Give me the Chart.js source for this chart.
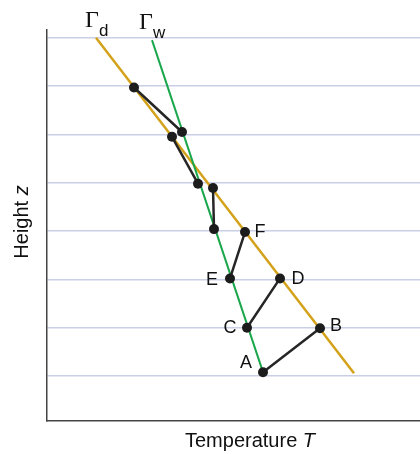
<!DOCTYPE html>
<html><head><meta charset="utf-8">
<script src="https://cdn.jsdelivr.net/npm/chart.js@4/dist/chart.umd.min.js"></script>
<style>html,body{margin:0;padding:0;background:#fff}canvas{display:block}</style>
</head><body>
<canvas id="c" width="420" height="454"></canvas>
<script>
// Parcel path segments (temperature, height); null breaks the path
const pathT = [216, 273, null, 200, 233, null, 183, 198, null, 167, 166, null, 151, 125, null, 135, 87];
const pathZ = [1.08, 1.99, null, 2.0, 3.02, null, 3.02, 3.98, null, 4.04, 4.89, null, 4.98, 5.95, null, 6.05, 6.97];
// labelled points (index into path arrays)
const pathLabels = ['A', 'B', 'C', 'D', 'E', 'F'];
const labelIdx = [0, 1, 3, 4, 6, 7];
// Dry adiabat
const dryT = [49, 307];
const dryZ = [8.0, 1.06];
// Wet adiabat
const wetT = [105, 216];
const wetZ = [7.95, 1.08];
const gridZ = [1, 2, 3, 4, 5, 6, 7, 8];
const curveNames = [['Γ', 'd'], ['Γ', 'w']];
const xTitle = ['Temperature ', 'T'];
const yTitle = ['Height ', 'z'];

const pts = (xs, ys) => xs.map((x, i) => ({x: x === null ? NaN : x, y: ys[i] === null ? NaN : ys[i]}));

// label offsets (px) relative to point: [dx, dy]
const labelOffsets = [[-17, -9], [16, -2], [-17, 0], [18, 1], [-18, 2], [15, 0]];

const textPlugin = {
  id: 'texts',
  afterDraw(chart) {
    const ctx = chart.ctx;
    const xs = chart.scales.x, ys = chart.scales.y;
    ctx.save();
    ctx.fillStyle = '#111';
    // point labels
    ctx.font = '18px "Liberation Sans", Arial, sans-serif';
    ctx.textAlign = 'center';
    ctx.textBaseline = 'middle';
    pathLabels.forEach((lab, i) => {
      const k = labelIdx[i];
      const px = xs.getPixelForValue(pathT[k]);
      const py = ys.getPixelForValue(pathZ[k]);
      ctx.fillText(lab, px + labelOffsets[i][0], py + labelOffsets[i][1]);
    });
    // curve names
    ctx.textAlign = 'left';
    ctx.textBaseline = 'alphabetic';
    const starts = [[dryT[0], dryZ[0], -11], [wetT[0], wetZ[0], -13]];
    curveNames.forEach((nm, i) => {
      const px = xs.getPixelForValue(starts[i][0]) + starts[i][2];
      const py = ys.getPixelForValue(starts[i][1]);
      ctx.font = '24px "Liberation Serif", "Times New Roman", serif';
      ctx.fillText(nm[0], px, py - 11);
      const w = ctx.measureText(nm[0]).width;
      ctx.font = '17px "Liberation Sans", Arial, sans-serif';
      ctx.fillText(nm[1], px + w, py - 2);
    });
    // x title
    ctx.font = '20px "Liberation Sans", Arial, sans-serif';
    const w1 = ctx.measureText(xTitle[0]).width;
    ctx.font = 'italic 20px "Liberation Sans", Arial, sans-serif';
    const w2 = ctx.measureText(xTitle[1]).width;
    let sx = 250 - (w1 + w2) / 2;
    ctx.font = '20px "Liberation Sans", Arial, sans-serif';
    ctx.fillText(xTitle[0], sx, 447);
    ctx.font = 'italic 20px "Liberation Sans", Arial, sans-serif';
    ctx.fillText(xTitle[1], sx + w1, 447);
    // y title
    ctx.translate(28, 222);
    ctx.rotate(-Math.PI / 2);
    ctx.font = '20px "Liberation Sans", Arial, sans-serif';
    const h1 = ctx.measureText(yTitle[0]).width;
    ctx.font = 'italic 20px "Liberation Sans", Arial, sans-serif';
    const h2 = ctx.measureText(yTitle[1]).width;
    sx = -(h1 + h2) / 2;
    ctx.font = '20px "Liberation Sans", Arial, sans-serif';
    ctx.fillText(yTitle[0], sx, 0);
    ctx.font = 'italic 20px "Liberation Sans", Arial, sans-serif';
    ctx.fillText(yTitle[1], sx + h1, 0);
    ctx.restore();
  }
};

new Chart(document.getElementById('c'), {
  type: 'line',
  data: {
    datasets: [
      {data: pts(pathT, pathZ), borderColor: '#262626', borderWidth: 2.5, pointRadius: 5,
       pointBackgroundColor: '#1c1c1c', pointBorderWidth: 0, spanGaps: false, order: 0, clip: false},
      {data: pts(wetT, wetZ), borderColor: '#1aa64a', borderWidth: 2, pointRadius: 0, order: 1},
      {data: pts(dryT, dryZ), borderColor: '#d4a21a', borderWidth: 2.5, pointRadius: 0, order: 2}
    ]
  },
  options: {
    responsive: false,
    animation: false,
    layout: {autoPadding: false, padding: {left: 47, top: 30, right: 0, bottom: 33}},
    plugins: {legend: {display: false}, tooltip: {enabled: false}},
    scales: {
      x: {type: 'linear', min: 0, max: 373,
          ticks: {display: false}, grid: {display: false, drawTicks: false},
          border: {display: true, color: '#444', width: 1.5}},
      y: {type: 'linear', min: 0.07, max: 8.16,
          afterBuildTicks: (s) => { s.ticks = gridZ.map(v => ({value: v})); },
          ticks: {display: false}, grid: {color: '#c9cfe6', lineWidth: 1.5, drawTicks: false},
          border: {display: true, color: '#444', width: 1.5}}
    }
  },
  plugins: [textPlugin]
});
</script>
</body></html>
